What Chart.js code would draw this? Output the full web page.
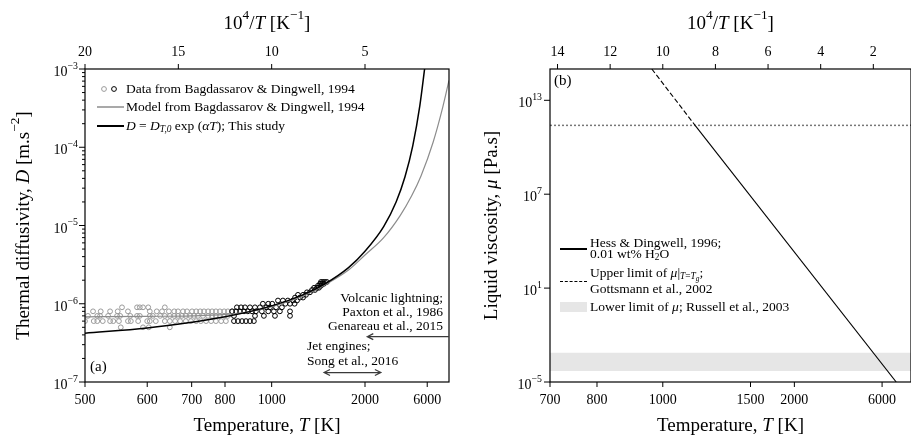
<!DOCTYPE html>
<html lang="en">
<head>
<meta charset="UTF-8">
<title>Thermal diffusivity and liquid viscosity</title>
<style>
  html, body { margin: 0; padding: 0; background: #fff; }
  #figure { position: relative; width: 911px; height: 437px; overflow: hidden; }
  .panel { position: absolute; top: 0; height: 437px; }
  #panelA { left: 0; width: 460px; }
  #panelB { left: 460px; width: 451px; }
</style>
</head>
<body>
<div id="figure">
  <div class="panel" id="panelA"><canvas id="chartA"></canvas></div>
  <div class="panel" id="panelB"><canvas id="chartB"></canvas></div>
</div>
<script src="https://cdn.jsdelivr.net/npm/chart.js"></script>
<script>
const SERIF = '"Liberation Serif", "DejaVu Serif", serif';

// ---------- (a) thermal diffusivity (D in 1e-6 m2/s) ----------
const tRangeA = [500, 20000];
const tempTicksA = [500, 600, 700, 800, 1000, 2000, 6000];
const invTicksA = [20, 15, 10, 5];
const dExps = [-7, -6, -5, -4, -3];

// Bagdassarov & Dingwell data, grouped by measured D
const grayRowsD = [0.5, 0.6, 0.7, 0.8, 0.9];
const grayRowsT = [
  [553, 592, 603, 647],
  [500, 512, 517, 525, 536, 541, 550, 565, 570, 583, 600, 605, 617, 636, 647, 659, 671, 685, 698, 712, 725, 740, 755, 770, 787, 803],
  [504, 517, 521, 533, 547, 552, 569, 581, 586, 605, 611, 626, 636, 647, 657, 666, 675, 685, 696, 706, 717, 731, 746, 758, 770, 783, 797, 810],
  [511, 522, 536, 548, 565, 605, 619, 630, 645, 657, 666, 678, 688, 701, 712, 723, 734, 746, 758, 770, 783, 797, 810, 825],
  [555, 581, 586, 592, 602, 636]
];
const blackRowsD = [0.6, 0.7, 0.8, 0.9, 1.0, 1.1, 1.2, 1.3, 1.4, 1.5, 1.6, 1.7, 1.8, 1.9];
const blackRowsT = [
  [832, 847, 863, 879, 896, 913],
  [832, 918, 960, 1018, 1109],
  [825, 840, 855, 871, 887, 905, 922, 950, 982, 1012, 1046, 1109],
  [843, 859, 875, 896, 918, 941, 972, 991, 1024, 1058],
  [955, 982, 1003, 1079, 1109, 1140],
  [1035, 1064, 1095, 1129, 1157],
  [1143, 1179, 1202],
  [1164, 1202, 1225],
  [1233, 1258],
  [1276, 1302],
  [1294, 1321, 1339],
  [1330, 1359],
  [1350, 1368, 1389],
  [1359, 1379, 1399, 1420]
];

// model curves
const modelT = [500, 600, 700, 800, 900, 1000, 1200, 1400, 1700, 2000, 2500, 3200, 4000, 5000, 7400, 12000, 20000];
const modelD = [0.68, 0.69, 0.70, 0.73, 0.80, 0.92, 1.25, 1.75, 2.7, 4.2, 7.0, 13.3, 24, 43, 116, 326, 715];
const studyT = [500, 600, 700, 800, 1000, 1200, 1400, 1700, 2000, 2500, 3000, 3500, 4100, 4850, 5600];
const studyD = [0.42, 0.49, 0.58, 0.68, 0.94, 1.30, 1.8, 2.9, 4.7, 9.7, 20, 42, 105, 340, 1100];

// temperature ranges quoted in the annotations
const volcanicT = 2050, volcanicD = 0.38;
const jetT = [1390, 2410], jetD = 0.132;

// ---------- (b) liquid viscosity (Pa.s) ----------
const tRangeB = [700, 17600];
const tempTicksB = [700, 800, 1000, 1500, 2000, 6000];
const invTicksB = [14, 12, 10, 8, 6, 4, 2];
const muExps = [-5, 1, 7, 13];
const hdT = [960, 1140, 8850];
const hdMu = [1e15, 2.5e11, 1e-5];
const muTgUpper = 2.5e11;
const russellBand = [5e-5, 7.5e-4];

const inv = T => 1e4 / T;

// ---------- text helpers ----------
function runFont(style, size) {
  let s = size;
  if (style.startsWith('sup') || style.startsWith('sub')) s = size * 0.7;
  if (style.startsWith('subsub')) s = size * 0.55;
  const italic = style === 'i' || style.endsWith('i') && style !== 'n';
  return (italic ? 'italic ' : '') + s.toFixed(1) + 'px ' + SERIF;
}
function runShift(style, size) {
  if (style.startsWith('subsub')) return size * 0.42;
  if (style.startsWith('sup')) return -size * 0.45;
  if (style.startsWith('sub')) return size * 0.25;
  return 0;
}
function richWidth(ctx, runs, size) {
  let w = 0;
  runs.forEach(r => { ctx.font = runFont(r[1], size); w += ctx.measureText(r[0]).width; });
  return w;
}
function drawRich(ctx, runs, x, y, size, align) {
  ctx.save();
  ctx.textBaseline = 'middle';
  ctx.textAlign = 'left';
  ctx.fillStyle = '#000';
  const w = richWidth(ctx, runs, size);
  let cx = align === 'center' ? x - w / 2 : align === 'right' ? x - w : x;
  runs.forEach(r => {
    ctx.font = runFont(r[1], size);
    ctx.fillText(r[0], cx, y + runShift(r[1], size));
    cx += ctx.measureText(r[0]).width;
  });
  ctx.restore();
}
function drawRotated(ctx, runs, x, y, size) {
  ctx.save();
  ctx.translate(x, y);
  ctx.rotate(-Math.PI / 2);
  drawRich(ctx, runs, 0, 0, size, 'center');
  ctx.restore();
}
function arrowHead(ctx, x, y, dir) {
  ctx.moveTo(x + dir * 6, y - 3);
  ctx.lineTo(x, y);
  ctx.lineTo(x + dir * 6, y + 3);
}

const TITLE_INV = [['10', 'n'], ['4', 'sup'], ['/', 'n'], ['T', 'i'], [' [K', 'n'], ['\u22121', 'sup'], [']', 'n']];
const TITLE_TEMP = [['Temperature, ', 'n'], ['T', 'i'], [' [K]', 'n']];

function drawAxes(chart, o) {
  const ctx = chart.ctx, a = chart.chartArea;
  const xs = chart.scales.x, ys = chart.scales.y;
  ctx.save();
  ctx.strokeStyle = '#000';
  ctx.lineWidth = 1.2;
  ctx.strokeRect(a.left, a.top, a.right - a.left, a.bottom - a.top);
  ctx.lineWidth = 1;
  ctx.beginPath();
  o.exps.forEach((e, i) => {
    const y = ys.getPixelForValue(Math.pow(10, e));
    ctx.moveTo(a.left - 6, y); ctx.lineTo(a.left, y);
    if (o.minor && i < o.exps.length - 1) {
      for (let m = 2; m <= 9; m++) {
        const ym = ys.getPixelForValue(m * Math.pow(10, e));
        ctx.moveTo(a.left - 3, ym); ctx.lineTo(a.left, ym);
      }
    }
  });
  o.tempTicks.forEach(T => {
    const x = xs.getPixelForValue(inv(T));
    ctx.moveTo(x, a.bottom); ctx.lineTo(x, a.bottom + 5);
  });
  o.invTicks.forEach(v => {
    const x = xs.getPixelForValue(v);
    ctx.moveTo(x, a.top); ctx.lineTo(x, a.top - 5);
  });
  ctx.stroke();
  ctx.restore();

  o.exps.forEach(e => {
    const y = ys.getPixelForValue(Math.pow(10, e));
    const ex = e < 0 ? '\u2212' + (-e) : String(e);
    drawRich(ctx, [['10', 'n'], [ex, 'sup']], a.left - o.labelGap, y + 3.5, 14, 'right');
  });
  o.tempTicks.forEach(T => drawRich(ctx, [[String(T), 'n']], xs.getPixelForValue(inv(T)), a.bottom + 18, 14, 'center'));
  o.invTicks.forEach(v => drawRich(ctx, [[String(v), 'n']], xs.getPixelForValue(v), a.top - 17, 14, 'center'));

  const cx = (a.left + a.right) / 2;
  drawRich(ctx, TITLE_INV, cx, a.top - 45, 19, 'center');
  drawRich(ctx, TITLE_TEMP, cx, a.bottom + 44, 19, 'center');
  drawRotated(ctx, o.yTitle, o.yTitleX, (a.top + a.bottom) / 2, 19);
}

const decorA = {
  id: 'decorA',
  afterDraw(chart) {
    const ctx = chart.ctx, a = chart.chartArea;
    const xs = chart.scales.x, ys = chart.scales.y;
    drawAxes(chart, {
      exps: dExps, minor: true, tempTicks: tempTicksA, invTicks: invTicksA, labelGap: 7,
      yTitle: [['Thermal diffusivity, ', 'n'], ['D', 'i'], [' [m.s', 'n'], ['\u22122', 'sup'], [']', 'n']],
      yTitleX: 24
    });

    // legend
    const lx = a.left + 12, tx = a.left + 41;
    const r1 = a.top + 20, r2 = a.top + 38, r3 = a.top + 57;
    ctx.save();
    ctx.lineWidth = 1;
    ctx.strokeStyle = '#9a9a9a';
    ctx.beginPath(); ctx.arc(lx + 7, r1, 2.4, 0, Math.PI * 2); ctx.stroke();
    ctx.strokeStyle = '#000';
    ctx.beginPath(); ctx.arc(lx + 17, r1, 2.4, 0, Math.PI * 2); ctx.stroke();
    ctx.strokeStyle = '#8c8c8c'; ctx.lineWidth = 1.5;
    ctx.beginPath(); ctx.moveTo(lx, r2); ctx.lineTo(lx + 27, r2); ctx.stroke();
    ctx.strokeStyle = '#000'; ctx.lineWidth = 2;
    ctx.beginPath(); ctx.moveTo(lx, r3); ctx.lineTo(lx + 27, r3); ctx.stroke();
    ctx.restore();
    drawRich(ctx, [['Data from Bagdassarov & Dingwell, 1994', 'n']], tx, r1, 13.5, 'left');
    drawRich(ctx, [['Model from Bagdassarov & Dingwell, 1994', 'n']], tx, r2, 13.5, 'left');
    drawRich(ctx, [['D', 'i'], [' = ', 'n'], ['D', 'i'], ['T,0', 'subi'], [' exp (', 'n'], ['\u03b1T', 'i'], ['); This study', 'n']], tx, r3, 13.5, 'left');

    // annotations
    const vy = ys.getPixelForValue(volcanicD * 1e-6);
    const vx = xs.getPixelForValue(inv(volcanicT));
    const jy = ys.getPixelForValue(jetD * 1e-6);
    const jx0 = xs.getPixelForValue(inv(jetT[0])), jx1 = xs.getPixelForValue(inv(jetT[1]));
    ctx.save();
    ctx.strokeStyle = '#3a3a3a'; ctx.lineWidth = 1.2;
    ctx.beginPath();
    ctx.moveTo(a.right, vy); ctx.lineTo(vx, vy); arrowHead(ctx, vx, vy, 1);
    ctx.moveTo(jx0, jy); ctx.lineTo(jx1, jy); arrowHead(ctx, jx0, jy, 1); arrowHead(ctx, jx1, jy, -1);
    ctx.stroke();
    ctx.restore();
    const rx = a.right - 6;
    drawRich(ctx, [['Volcanic lightning;', 'n']], rx, vy - 38, 13.5, 'right');
    drawRich(ctx, [['Paxton et al., 1986', 'n']], rx, vy - 24, 13.5, 'right');
    drawRich(ctx, [['Genareau et al., 2015', 'n']], rx, vy - 10, 13.5, 'right');
    drawRich(ctx, [['Jet engines;', 'n']], jx0 - 17, jy - 26, 13.5, 'left');
    drawRich(ctx, [['Song et al., 2016', 'n']], jx0 - 17, jy - 11.5, 13.5, 'left');
    drawRich(ctx, [['(a)', 'n']], a.left + 5, a.bottom - 15, 15, 'left');
  }
};

const decorB = {
  id: 'decorB',
  afterDraw(chart) {
    const ctx = chart.ctx, a = chart.chartArea;
    drawAxes(chart, {
      exps: muExps, minor: false, tempTicks: tempTicksB, invTicks: invTicksB, labelGap: 8,
      yTitle: [['Liquid viscosity, ', 'n'], ['\u03bc', 'i'], [' [Pa.s]', 'n']],
      yTitleX: 32
    });

    // legend
    const lx = a.left + 10, tx = a.left + 40;
    const r1 = 249, r2 = 281.5, r3 = 307;
    ctx.save();
    ctx.strokeStyle = '#000'; ctx.lineWidth = 2;
    ctx.beginPath(); ctx.moveTo(lx, r1); ctx.lineTo(lx + 27, r1); ctx.stroke();
    ctx.lineWidth = 1.2; ctx.setLineDash([3, 1.8]);
    ctx.beginPath(); ctx.moveTo(lx, r2); ctx.lineTo(lx + 27, r2); ctx.stroke();
    ctx.setLineDash([]);
    ctx.fillStyle = '#e6e6e6';
    ctx.fillRect(lx, r3 - 5, 27, 10);
    ctx.restore();
    drawRich(ctx, [['Hess & Dingwell, 1996;', 'n']], tx, r1 - 6, 13.5, 'left');
    drawRich(ctx, [['0.01 wt% H', 'n'], ['2', 'sub'], ['O', 'n']], tx, r1 + 5.5, 13.5, 'left');
    drawRich(ctx, [['Upper limit of ', 'n'], ['\u03bc', 'i'], ['|', 'n'], ['T', 'subi'], ['=', 'sub'], ['T', 'subi'], ['g', 'subsubi'], [';', 'n']], tx, r2 - 8.5, 13.5, 'left');
    drawRich(ctx, [['Gottsmann et al., 2002', 'n']], tx, r2 + 8, 13.5, 'left');
    drawRich(ctx, [['Lower limit of ', 'n'], ['\u03bc', 'i'], ['; Russell et al., 2003', 'n']], tx, r3, 13.5, 'left');
    drawRich(ctx, [['(b)', 'n']], a.left + 4, a.top + 12, 15, 'left');
  }
};

function baseScales(tRange, yMin, yMax, yWidth) {
  const hidden = { ticks: { display: false }, grid: { display: false }, border: { display: false } };
  return {
    x: Object.assign({ type: 'linear', position: 'bottom', reverse: true, min: inv(tRange[1]), max: inv(tRange[0]),
      afterFit: s => { s.height = 55; } }, hidden),
    xTop: Object.assign({ type: 'linear', position: 'top', reverse: true, min: inv(tRange[1]), max: inv(tRange[0]),
      afterFit: s => { s.height = 69; } }, hidden),
    y: Object.assign({ type: 'logarithmic', position: 'left', min: yMin, max: yMax,
      afterFit: s => { s.width = yWidth; } }, hidden)
  };
}

const commonOpts = {
  responsive: true,
  maintainAspectRatio: false,
  animation: false,
  events: [],
  plugins: { legend: { display: false }, tooltip: { enabled: false } }
};

function rowsToPoints(rowsD, rowsT) {
  const pts = [];
  rowsT.forEach((row, i) => row.forEach(T => pts.push({ x: inv(T), y: rowsD[i] * 1e-6 })));
  return pts;
}
function curve(T, D, scale) {
  return T.map((t, i) => ({ x: inv(t), y: D[i] * scale }));
}

new Chart(document.getElementById('chartA'), {
  type: 'line',
  data: {
    datasets: [
      { data: curve(studyT, studyD, 1e-6), borderColor: '#000', borderWidth: 1.5, pointRadius: 0, cubicInterpolationMode: 'monotone' },
      { data: curve(modelT, modelD, 1e-6), borderColor: '#8c8c8c', borderWidth: 1.2, pointRadius: 0, cubicInterpolationMode: 'monotone' },
      { data: rowsToPoints(blackRowsD, blackRowsT), showLine: false, pointRadius: 2.4, borderWidth: 1,
        pointBorderColor: '#000', pointBackgroundColor: 'rgba(0,0,0,0)' },
      { data: rowsToPoints(grayRowsD, grayRowsT), showLine: false, pointRadius: 2.4, borderWidth: 1,
        pointBorderColor: '#9a9a9a', pointBackgroundColor: 'rgba(0,0,0,0)' }
    ]
  },
  options: Object.assign({}, commonOpts, {
    layout: { padding: { left: 0, right: 11, top: 0, bottom: 0 } },
    scales: baseScales(tRangeA, 1e-7, 1e-3, 85)
  }),
  plugins: [decorA]
});

new Chart(document.getElementById('chartB'), {
  type: 'line',
  data: {
    datasets: [
      { data: curve(hdT, hdMu, 1), borderColor: '#000', borderWidth: 1.1, pointRadius: 0,
        segment: { borderDash: c => c.p0DataIndex === 0 ? [5, 2.5] : undefined } },
      { data: curve(tRangeB, [muTgUpper, muTgUpper], 1), borderColor: '#777', borderWidth: 1.5, borderDash: [2, 2], pointRadius: 0 },
      { data: curve(tRangeB, [russellBand[0], russellBand[0]], 1), borderColor: 'rgba(0,0,0,0)', borderWidth: 0, pointRadius: 0, fill: false },
      { data: curve(tRangeB, [russellBand[1], russellBand[1]], 1), borderColor: 'rgba(0,0,0,0)', borderWidth: 0, pointRadius: 0,
        fill: '-1', backgroundColor: '#e6e6e6' }
    ]
  },
  options: Object.assign({}, commonOpts, {
    layout: { padding: { left: 0, right: 0, top: 0, bottom: 0 } },
    scales: baseScales(tRangeB, 1e-5, 1e15, 90)
  }),
  plugins: [decorB]
});
</script>
</body>
</html>
